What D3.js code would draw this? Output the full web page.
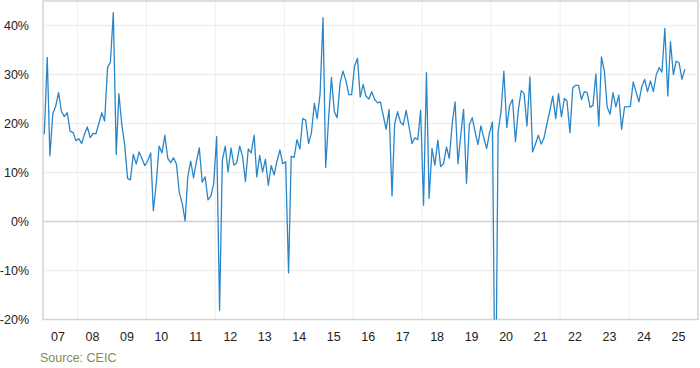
<!DOCTYPE html>
<html>
<head>
<meta charset="utf-8">
<script src="https://cdn.jsdelivr.net/npm/d3@7"></script>
<style>
  html, body { margin: 0; padding: 0; background: #fff; }
  svg { display: block; }
  text { font-family: "Liberation Sans", Arial, Helvetica, sans-serif; }
</style>
</head>
<body>
<svg id="chart" width="700" height="368"></svg>
<script>
// ---- data (monthly, % y/y), first month Jan 2007 ----
const startYear = 2007;
const startMonth = 0; // January
const values = [
  17.8, 33.5, 13.4, 22.0, 23.5, 26.3, 22.5, 21.4, 22.2, 18.4, 18.2, 16.5,   // 2007
  16.9, 15.9, 17.8, 19.3, 17.1, 18.0, 17.9, 20.0, 22.2, 20.5, 31.4, 32.5,   // 2008
  42.6, 13.7, 26.1, 19.7, 15.8, 8.8, 8.5, 13.7, 11.7, 14.2, 12.8, 11.4,     // 2009
  12.4, 14.0, 2.2, 7.8, 15.4, 14.0, 17.6, 12.9, 12.0, 13.0, 11.7, 5.9,      // 2010
  3.7, 0.1, 9.1, 12.3, 8.9, 12.3, 15.0, 8.0, 9.1, 4.4, 5.2, 7.8,            // 2011
  17.3, -18.1, 12.5, 15.4, 10.1, 15.0, 11.5, 12.0, 15.4, 13.3, 8.2, 14.8,   // 2012
  14.0, 17.6, 9.1, 13.5, 10.1, 12.7, 7.4, 11.4, 9.5, 12.3, 14.6, 11.8,      // 2013
  12.2, -10.5, 13.3, 13.1, 16.7, 14.8, 21.0, 20.7, 15.9, 18.1, 24.1, 21.0,  // 2014
  26.1, 41.6, 11.0, 21.0, 29.4, 22.4, 21.2, 28.3, 30.7, 28.8, 25.9, 25.9,   // 2015
  31.7, 33.3, 25.4, 28.0, 25.6, 25.0, 26.5, 24.9, 24.2, 24.4, 21.5, 18.8,   // 2016
  22.9, 5.2, 19.9, 22.4, 20.3, 19.7, 22.7, 19.3, 15.9, 17.1, 16.7, 22.7,    // 2017
  3.3, 30.4, 4.7, 14.9, 11.5, 16.6, 11.2, 11.8, 15.2, 12.9, 20.0, 24.4,     // 2018
  11.8, 18.0, 22.9, 7.8, 19.7, 21.2, 18.3, 15.7, 19.5, 17.1, 14.9, 18.1,    // 2019
  20.3, -45.0, 18.3, 22.4, 30.7, 19.2, 23.7, 24.9, 16.3, 22.7, 26.7, 26.1,  // 2020
  19.5, 29.5, 14.2, 15.8, 17.6, 15.8, 17.1, 20.0, 22.7, 25.6, 21.0, 26.1,   // 2021
  21.4, 25.1, 24.6, 18.1, 27.3, 27.8, 27.8, 24.9, 26.5, 26.3, 23.3, 23.7,   // 2022
  30.1, 19.5, 33.6, 30.7, 23.3, 21.9, 26.3, 23.4, 25.8, 18.8, 23.4, 23.4,   // 2023
  23.5, 28.5, 26.5, 24.4, 27.5, 29.0, 26.5, 28.7, 26.5, 29.9, 31.4, 30.5,   // 2024
  39.4, 25.6, 36.7, 30.0, 32.7, 32.4, 29.0, 31.1                            // 2025
];
const yTicks = [-20, -10, 0, 10, 20, 30, 40];
const yearLabels = ["07","08","09","10","11","12","13","14","15","16","17","18","19","20","21","22","23","24","25"];
const gridYears = [2008, 2010, 2012, 2014, 2016, 2018, 2020, 2022, 2024];
const sourceText = "Source: CEIC";

// ---- layout ----
const svg = d3.select("#chart");
const pLeft = 43, pRight = 698, pTop = 1, pBottom = 319.5;

const data = values.map((v, i) => ({ date: new Date(startYear, startMonth + i, 15), v }));

const x = d3.scaleTime()
  .domain([new Date(2007, 0, 1), new Date(2026, 0, 1)])
  .range([pLeft, pRight]);
const y = d3.scaleLinear().domain([-20, 45]).range([pBottom, pTop]);

// clip
svg.append("defs").append("clipPath").attr("id", "clip")
  .append("rect").attr("x", pLeft).attr("y", pTop).attr("width", pRight - pLeft).attr("height", pBottom - pTop);

// horizontal grid
svg.append("g").selectAll("line").data(yTicks.filter(t => t !== 0 && t !== -20)).join("line")
  .attr("x1", pLeft).attr("x2", pRight)
  .attr("y1", d => y(d)).attr("y2", d => y(d))
  .attr("stroke", "#efefef").attr("stroke-width", 1.5);

// vertical grid
svg.append("g").selectAll("line").data(gridYears).join("line")
  .attr("x1", d => x(new Date(d, 0, 1))).attr("x2", d => x(new Date(d, 0, 1)))
  .attr("y1", pTop).attr("y2", pBottom)
  .attr("stroke", "#efefef").attr("stroke-width", 1);

// zero line
svg.append("line")
  .attr("x1", pLeft).attr("x2", pRight).attr("y1", y(0)).attr("y2", y(0))
  .attr("stroke", "#d0d0d0").attr("stroke-width", 1.5);

// frame
svg.append("rect")
  .attr("x", pLeft).attr("y", pTop).attr("width", pRight - pLeft).attr("height", pBottom - pTop)
  .attr("fill", "none").attr("stroke", "#d4d4d4").attr("stroke-width", 1.5);

// line
const line = d3.line().x(d => x(d.date)).y(d => y(d.v));
svg.append("path")
  .datum(data)
  .attr("clip-path", "url(#clip)")
  .attr("d", line)
  .attr("fill", "none")
  .attr("stroke", "#2a86c8")
  .attr("stroke-width", 1.3)
  .attr("stroke-linejoin", "round");

// y labels
svg.append("g").selectAll("text").data(yTicks).join("text")
  .attr("x", 29).attr("y", d => y(d))
  .attr("dy", "0.35em")
  .attr("text-anchor", "end")
  .attr("font-size", 12.5)
  .attr("fill", "#222")
  .text(d => d + "%");

// x labels
svg.append("g").selectAll("text").data(yearLabels).join("text")
  .attr("x", (d, i) => x(new Date(startYear + i, 5, 8)))
  .attr("y", 341)
  .attr("text-anchor", "middle")
  .attr("font-size", 12.5)
  .attr("fill", "#222")
  .text(d => d);

// source
svg.append("text")
  .attr("x", 40).attr("y", 362)
  .attr("font-size", 12.5)
  .attr("fill", "#8a8a4e")
  .text(sourceText);
</script>
</body>
</html>
